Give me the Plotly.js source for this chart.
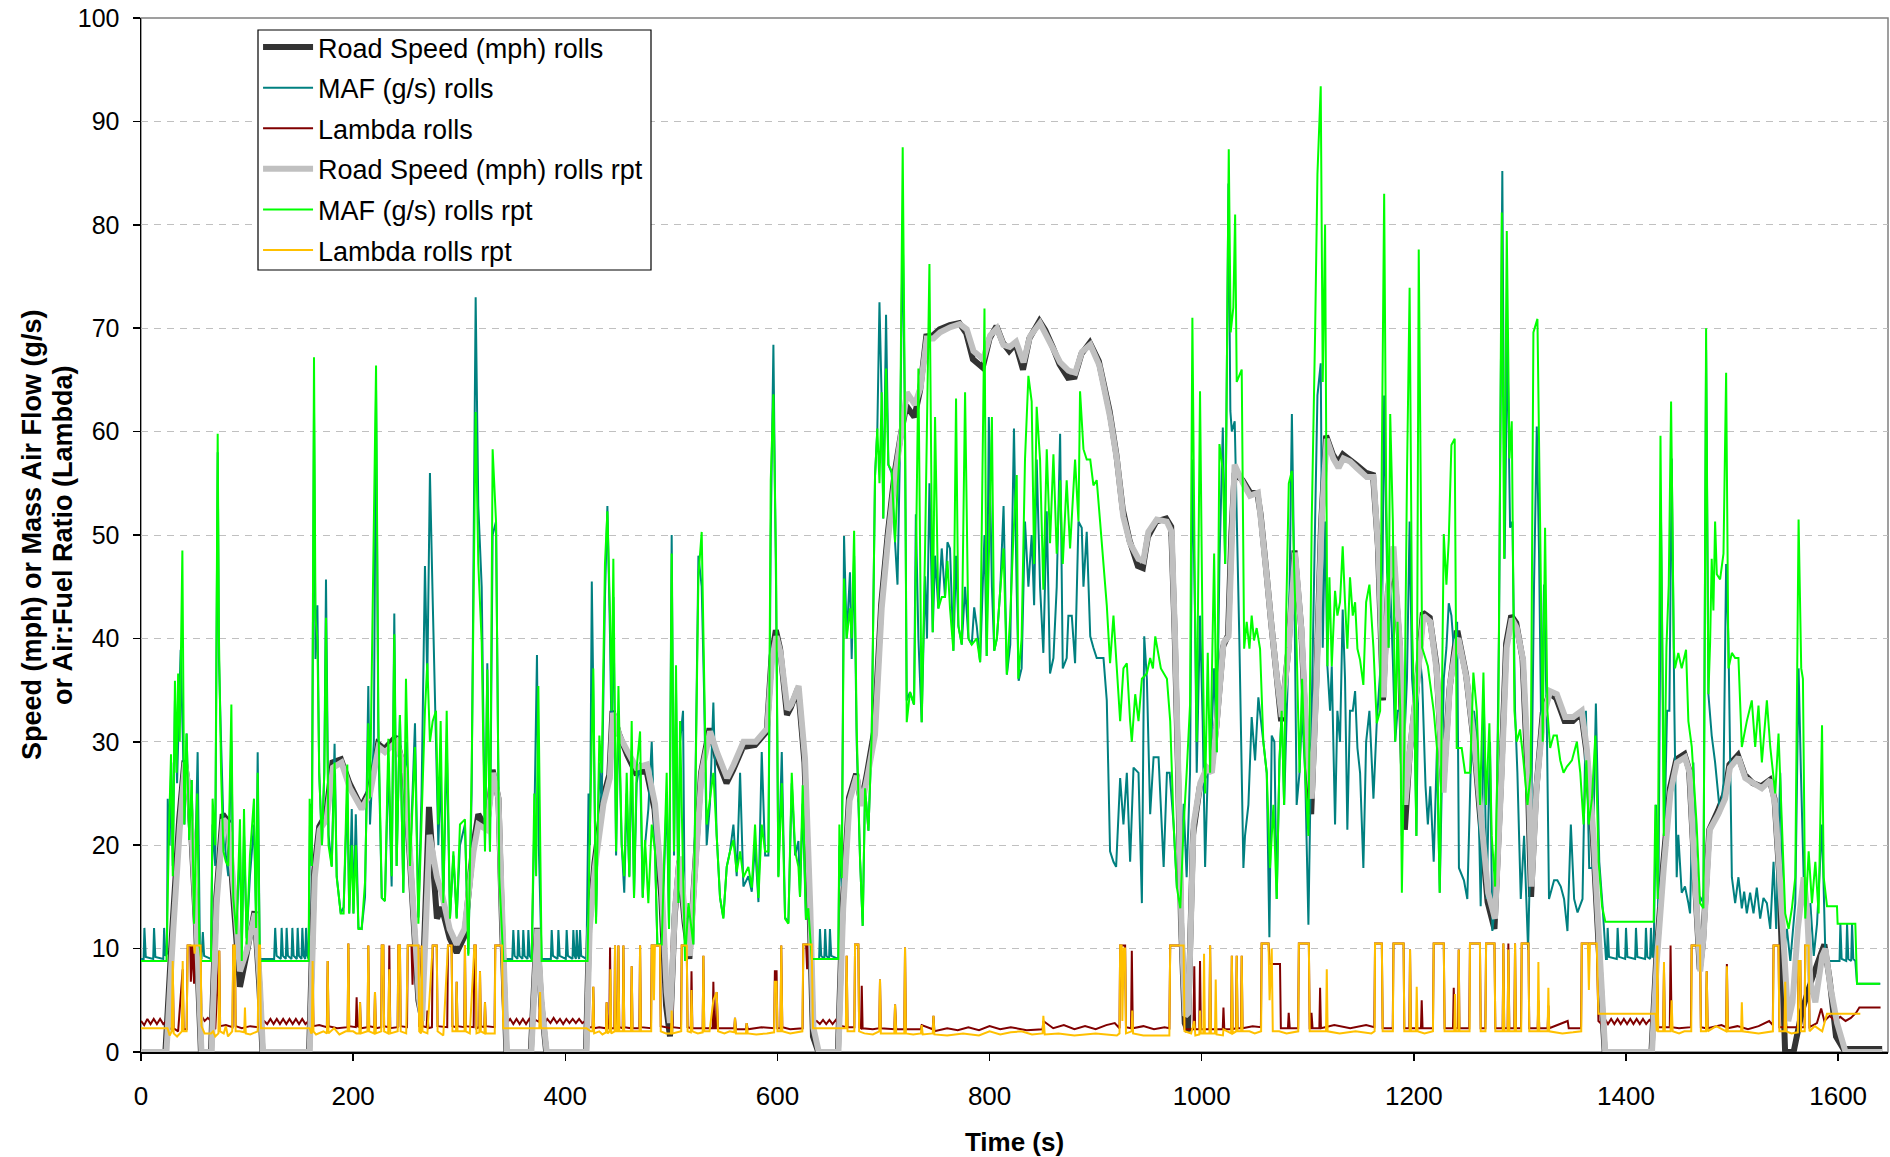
<!DOCTYPE html>
<html>
<head>
<meta charset="utf-8">
<script src="https://cdn.plot.ly/plotly-3.0.1.min.js"></script>
<style>
  html, body { margin: 0; padding: 0; background: #ffffff; }
  #chart { width: 1890px; height: 1157px; }
</style>
</head>
<body>
<div id="chart"></div>
<script>
// Drive cycle trace: each series is a list of [time (s), value] pairs.

const speedRolls = [
[0,0],[23,0],[29.5,11.9],[36,22.5],[41,28.2],[45.5,25],[52,11.9],[56.5,0],[66,0],[71,15],[77,23],[82,22.3],[88,13.5],[93.3,6.3],[99.6,9.5],[107,13.6],[111.5,6.5],[114.5,0],[158.5,0],
[163.3,17.5],[168,21.8],[174.5,23],[180.5,28],[188.5,28.3],[196.5,26],[207.5,23.7],[215.5,25.3],[223.5,29.8],[229.5,29.3],[240.5,30.5],[248.5,27],[254.5,17],[261.5,5],[264.5,3.5],[271.5,23.7],[279,12.9],[283.5,14],[291,11],[297.6,9.6],[305,11.2],[313,19.8],[318,23],[326,21.5],[331.5,27.3],[337,24.5],[340.5,11.9],[344.5,0],
[367.5,0],[373.2,12],[377.3,4.8],[382,0],[419.5,0],[422.5,12],[427.5,18.3],[435.5,24.5],[441.5,26.8],[444.5,33],[450.5,30.8],[458.5,28.7],[466.5,27],[476.5,27.2],[484.1,23.5],[490.5,15],[495,4.5],[498.7,1.5],[503,13],[507.5,18.5],[512.5,12.5],[517,9],[521.5,16.5],[528,27],[536,31.3],[542.5,28.5],[552,26],[558.3,27.3],[567.5,29.5],[579,29.7],[589.9,31],[594.5,38.3],[598.5,40.8],[602.5,39],[609,32.6],[612.5,33.3],[619.5,35.2],[625.5,28],[630.5,13],[633.5,1.5],[638.5,0],
[657,0],[661.5,14.2],[667.5,24.6],[674.2,26.9],[679,24],[684.5,27],[691.5,31.2],[697.8,43.3],[704.1,50.2],[710.5,56],[716.5,59.8],[721.5,62.5],[729.1,61.4],[734.5,64],[740.3,69.2],[746.5,69.3],[752.9,69.9],[762.5,70.3],[771.5,70.5],[778,69.5],[784.3,67],[793.5,66.2],[800,69],[806.5,70.2],[812.5,68.6],[818.5,67.8],[824.5,68.5],[831.5,66],[837.5,69],[847,70.7],[852.5,69.8],[859.5,68.2],[866,66.5],[873.9,65.2],[880.3,65.3],[886.5,67.5],[894.5,68.6],[903,66.8],[913.1,62],[919.5,57.8],[925.5,52.5],[931.9,49.5],[939.8,47],[944.5,46.8],[949.2,49.8],[957.1,51.3],[966.5,51.6],[971.2,50.8],[974.5,40.5],[977.5,28],[980.5,12.5],[984,2.8],[987,2],
[991.8,21],[998.1,25.6],[1004.4,27.3],[1009.1,27.3],[1013.8,31.5],[1020.1,39.2],[1024.8,40.3],[1028,50.2],[1031,56],[1038.5,55.3],[1045,54.2],[1052.5,54],[1055.5,52],[1060.9,46.5],[1065.5,41.5],[1070.5,36.5],[1074.9,32],[1081.5,38.7],[1087.5,48.5],[1093.8,41],[1098.5,30],[1103.2,23],[1107.9,35.5],[1112.5,51],[1117.3,59.6],[1123.5,57.8],[1128.5,57],[1133.1,57.8],[1139.4,57.3],[1145.5,56.8],[1155.1,56],[1161.5,55.8],[1166.1,49],[1170.9,34],[1175.5,44.5],[1180.3,48.5],[1186.5,39.5],[1191.5,21.5],[1196,28.8],[1202.5,35],[1208.5,42.5],[1215,42],[1221.2,37.5],[1227.5,25.5],[1233.5,35],[1240.2,40.5],[1241.5,40.5],[1249.2,36.5],[1257,29.5],[1263.5,21.5],[1269.5,14.5],[1276,11.9],[1282.3,26.5],[1287,39.5],[1291.8,42.2],[1296.5,41.5],[1302.5,38],[1307.5,26],[1310.5,15],[1315.3,25.2],[1321.5,32.8],[1328,34.7],[1334.3,34.2],[1342.1,32],[1349.9,32],[1357.8,32.8],[1362.5,29.2],[1368.9,20.5],[1375.2,8.3],[1379.9,0],
[1424,0],[1428.5,9],[1435.1,18.2],[1441.4,25.5],[1447.5,28.3],[1455.1,28.8],[1459.5,27.3],[1464.5,17.5],[1469.5,8],[1472.5,10.5],[1478.5,21.5],[1486.5,23.3],[1493,25],[1497.5,27.8],[1505.5,28.7],[1512,26.8],[1519.5,26],[1527.5,25.7],[1535.5,26.3],[1540,24.5],[1544.5,17],[1550,0],[1558,0],[1566,4],[1575,7],[1587,10.4],[1592,7],[1598,1.5],[1605,0.3],[1641.5,0.3]
];

const mafRolls = [
[0,9],[2.5,9],[3.2,12],[4.5,9.2],[11.5,9],[12.3,12],[13.5,9.2],[21,9],[21.8,12],[23,9.3],[24.5,9.5],
[25.2,24.5],[27,20],[28.5,28],[30,18],[32,34],[34,26],[37.4,38.9],[39.5,30],[41,22],[43,30.8],[45.5,20.5],[47.8,26.3],[50,13],[53.4,29],[55.5,10.4],[57,9],[58.3,11.6],[59.5,9.3],[66,9],
[67.5,22],[70,18],[72.3,58],[73.5,38],[75.5,30],[77.7,22],[80,19],[82.3,17],[85.2,30],[87,15],[90,12],[93.3,20],[95,10],[97.1,21],[99.6,11],[102.7,17],[106.5,22],[108.5,13],[110,29],[112,9],[125.5,9],
[126.5,12],[127.8,9.3],[131.8,9],[132.6,12],[133.8,9.3],[136.5,9],[137.3,12],[138.5,9.3],[141.9,9],[142.7,12],[143.9,9.3],[146.9,9],[147.7,12],[148.9,9.3],[151.3,9],[152.1,12],[153.3,9.3],[154.8,9],[155.6,12],[156.8,9.3],[158,9],
[159.5,24],[161,18],[163.1,62],[164.5,38],[166.3,43.2],[168,27],[170.6,20],[172.8,27],[174.4,45.7],[176.8,21],[179.8,18],[182.5,29.8],[184.5,17],[188.3,13.4],[191,14],[194.5,25],[196.3,13.4],[198.7,23.5],[200.3,13.4],[202.5,23],[205,12],
[208,11.9],[211.2,15],[214.3,35.4],[215.9,22],[219.5,30],[221.6,64],[223.8,30],[227,14.9],[230,14.6],[233.2,28],[236.3,16],[238.8,42.4],[241,18],[244.1,32.6],[247.3,15.4],[249.8,30],[253.6,18],[258.3,31.8],[261.5,13],[264.5,25],[267.7,47],[269.9,36],[272.4,56],[275,43.7],[278.1,30],[280.3,20],[282.5,27],[285,14.4],[288.2,30],[291.3,13],[294.5,19],[297.6,13],[300.7,20],[305.4,22],[308.6,9.5],[311.7,25],[315.5,73],[318,52.8],[321.2,45],[324.3,20],[326.5,37.6],[329,19.4],[331.5,50],[334.7,51.3],[337.8,17],[341.6,9],
[350,9],[351,11.8],[352.2,9.3],[354.9,9],[355.7,11.8],[356.9,9.3],[359.6,9],[360.4,11.8],[361.6,9.3],[364.4,9],[365.2,11.8],[366.4,9.3],[368.3,9],[370.8,22],[373.3,38.4],[375,20],[377.7,9],[386.4,9],[387.2,11.8],[388.4,9.3],[392.7,9],[393.5,11.8],[394.7,9.3],[400.5,9],[401.3,11.8],[402.5,9.3],[406.8,9],[407.6,11.8],[408.8,9.3],[410,9],[410.8,11.8],[412,9.3],[413.1,9],[413.9,11.8],[415,9.3],[420,9],
[421.9,25],[423.3,20],[425,45.5],[427,30],[429,13],[432.1,28],[434.3,24],[437.4,44],[439.7,52.8],[442.2,40],[443.7,30],[445.3,44],[447.9,19],[450.1,33],[453.2,20],[455.6,15.4],[457.9,25],[460.4,17],[462.6,29],[464.8,15],[467.3,26],[470.5,28],[473,15],[475.2,20],[478.3,23.5],[481.5,30],[484.6,19.4],[486.8,10.4],[490.9,10.4],[495.6,25],[497.8,12],[500.3,50],[502.5,19],[504.4,35],[506.6,14.4],[508.2,30],[511,33],[512.9,9.5],[516.1,14],[520.7,10.4],[525.5,48],[528.6,45],[530.8,35],[533.3,20],[536.4,24],[539.6,33.8],[542.7,21],[545.9,14.9],[549,13],[552.2,17.9],[555.3,19.4],[558.5,22],[561.6,17],[564.8,27],[567.9,16],[572.6,17],[575.8,15.5],[578.9,20],[582.1,14.5],[585.2,29],[588.4,19],[591.5,19],[593.7,50],[596.2,68.4],[598.7,45],[600.9,17],[604.1,29],[607.2,13],[610.3,12.5],[613.5,26],[616.7,19],[619.8,20.4],
[621.3,15],[623.8,24],[626.9,12.8],[629.1,13.9],[632.3,9],[639.3,9],[640.1,11.9],[641.3,9.3],[644.2,9],[645,11.9],[646.2,9.3],[648.7,9],[649.5,11.9],[650.7,9.3],[657.4,9],
[658.4,20],[660.6,16],[662.8,49.9],[665.3,40],[668.4,46.4],[670,38],[672.3,48],[674.7,30],[677.9,18.6],[680.4,12.2],[682.6,25.5],[685.8,21.4],[688.9,30.7],[692,55.7],[694.2,60.3],[696.2,72.5],[698.3,63],[699.8,51.6],[702.4,71.3],[704.6,56.8],[707.7,56],[710.9,49.3],[713.2,45.2],[715.6,58.6],[718.1,80],[720.3,60],[721.9,34],[725,34.8],[728.8,33.6],[730.5,52],[732.9,40],[736,31.9],[739.2,46],[741,40],[743.3,55],[746.4,40.6],[748.6,48],[751.7,42.9],[754.9,48.7],[758,44],[760.3,49.3],[762.7,48.7],[765.9,38.8],[768.4,48],[770.6,41.2],[773.8,39.4],[776.9,45],[780.1,40],[783.2,39.4],[785.5,43],[787.9,41.2],[791.1,37.7],[795.2,50],[797.3,38.3],[799.3,61.4],[802.2,45],[804.4,38.8],[806.9,40],[810,44.6],[813.2,52.8],[816.3,36.5],[819.5,39.4],[823,60.3],[825.5,45],[827.4,35.9],
[830.2,37.1],[833.4,51.3],[836.6,45],[839.7,50],[842,43.2],[844.4,57.3],[847.6,45],[850.7,38.6],[853.9,52.3],[857,36.6],[860.2,38.1],[863.3,45],[866.5,59.8],[869,37.1],[872.7,38.1],[874.3,42.2],[877.5,42.2],[880.6,37.6],[883.8,51.3],[886.9,50.7],[888.5,45],[891.6,50.3],[894.9,40.2],[897.9,39.1],[901,38.1],[904.2,38.1],[907.4,38.1],[910.5,34],[913.6,19.4],[916.8,18.4],[919.3,17.9],[923.1,26.5],[926.2,22],[929.4,27],[932.5,18.4],[935.7,27.5],[940.4,27],[943.6,14.4],[945.8,40.2],[948.3,36.1],[951.4,23],[954.6,28.5],[959.3,28.5],[964.1,17.9],[967.2,27],[969.8,27],[973.5,22],[976.6,15.9],[979.8,15.9],[983,24],[985.8,16.9],[989,27],[991.2,57.3],[993.7,42.2],[995.3,27],[998.4,42.2],[1000.9,32],[1003.2,17.9],[1005.7,27],[1007.9,27],[1011.7,37.1],[1014.2,29],[1016.7,47.2],[1019.9,60.4],[1022.1,47.2],[1025.2,84],[1027,62],[1028.4,60],[1031.1,61],
[1035.5,39.8],[1039.3,17.8],[1040.8,20.9],[1044,23.9],[1047.1,32.4],[1050.3,28.2],[1053.4,34.3],[1058.1,30],[1061.3,27],[1063.8,11.1],[1066,30.6],[1068.5,30],[1070.7,14.8],[1073.3,28.2],[1075.4,33],[1077.7,23.9],[1080.2,33],[1082.1,39.1],[1085,61.7],[1087.2,46.5],[1089.5,23.9],[1092.2,27],[1094.6,33],[1097.5,27],[1100.6,12.3],[1103.7,33],[1106.9,51.3],[1109.1,63.5],[1112.2,66.6],[1114.1,39.1],[1116.3,51.3],[1118.5,37.3],[1121,33],[1122.6,37.3],[1125.7,22],[1127.9,33],[1130.4,30],[1132.9,42.8],[1135.1,36.1],[1137.3,21.5],[1139.8,33],[1142.4,33],[1144.6,34.9],[1146.8,29.4],[1149.3,27],[1152.4,17.8],[1155,30],[1158.1,33],[1161.9,24.5],[1165,31.8],[1169.8,39.1],[1172,63.5],[1173.9,51.3],[1176.1,39.1],[1177.7,45.2],[1180.2,37.9],[1182.4,30],[1184.6,33],[1187.2,33],[1188.7,20.9],[1191,30],[1193.5,36.1],[1196,51.3],[1198.3,36.1],[1200.5,33],[1202.4,20.9],[1204.6,39.1],[1207.8,36.1],[1211,25.7],[1213.2,22],[1215.5,25.7],[1218.7,18.4],[1221.8,29.4],[1224.4,15.4],[1228.2,36.1],[1230.7,39.1],[1232.9,43.4],[1235.4,42.2],[1237.6,39.1],[1240.8,41.6],[1242.5,17.8],
[1247.2,16.6],[1250.4,14.8],[1253.5,27],[1256.7,33],[1259.8,30],[1263,14.1],[1266.1,33],[1268.6,14.8],[1271.8,30],[1274,11.7],[1277.1,14.8],[1280.3,41],[1283.4,85.2],[1285.6,47.7],[1288.1,69.6],[1290.7,50.7],[1292.9,51.3],[1295.4,33],[1297.6,27],[1300.8,14.8],[1303.9,20.9],[1307.7,9.9],[1310.8,23.9],[1313.3,45.2],[1315.9,60.5],[1318,48.3],[1320.2,30],[1322.7,45.2],[1325.2,33],[1327.4,14.8],[1330.6,16],[1332.2,16.6],[1335.3,16.6],[1338.5,16],[1341.6,14.8],[1344.8,11.7],[1348,22],[1351.1,14.8],[1354.3,13.5],[1359,14.8],[1362.2,33],[1365.3,17.8],[1368.5,17.8],[1371.6,33.7],[1374.8,18.4],[1377.9,14.1],[1381.1,9],
[1382,9],[1382.7,12],[1384,9.2],[1391.3,9],[1392.1,12],[1393.4,9.2],[1399.2,9],[1400,12],[1401.3,9.2],[1408.6,9],[1409.4,12],[1410.7,9.2],[1418,9],[1418.8,12],[1420.1,9.2],[1422.7,9],[1423.5,12],[1424.8,9.2],[1426,9.2],
[1428.3,23.9],[1430.5,14],[1433,51.3],[1436.2,20.9],[1438.7,33],[1440.9,33],[1443.1,57.4],[1445.6,33],[1447.8,16.9],[1449.3,21],[1452.5,15.4],[1455.6,16],[1458.8,14.4],[1460.4,13.4],[1463.5,28],[1466.6,13.9],[1470,15],[1473,14.4],[1475.5,67.9],[1477.7,34.6],[1480.8,30.6],[1484,28],[1488.7,23],[1491.9,26],[1494.4,47.2],[1496.6,39.6],[1499.8,16.9],[1502.9,14.4],[1506,16.9],[1509.2,13.9],[1511.4,15.5],[1513.9,13.4],[1517,15.4],[1520.2,13.4],[1523.3,15.9],[1526.5,12.9],[1529.6,14.9],[1532.8,14.4],[1536,11.9],[1539.1,18.4],[1541.6,11.9],[1545.4,27],[1548.6,9.3],[1551.7,11.9],[1554.9,8.8],[1559.6,14.4],[1562.7,37.1],[1564.9,27],[1567.5,16.9],[1570.6,11.9],[1573.8,14.4],[1577,9.3],[1580.1,12.4],[1584.8,22],[1588,9.3],[1591.1,8.8],[1601.3,8.8],[1602.1,12.4],[1603.3,9],[1607.6,8.8],[1608.4,12.4],[1609.6,9],[1612.3,8.8],[1613.1,12.4],[1614.3,9],[1616.2,8.8],[1617.8,6.6],[1639.8,6.6]
];

const lambdaRolls = [
[0,3],[3,2.6],[6,3.2],[9,2.7],[12,3.2],[15,2.7],[18,3.2],[21,2.7],[24,3],[26,2.2],[29,2.3],[29.9,8.5],[30.8,2.3],[35,2],[39.3,8],[40.2,2.2],[43,2.2],[44,10.3],[46.5,10.3],[47,6.8],[48.5,10.3],[50,6.6],[50.8,10.3],[56,10.3],[57,3.5],[60,3],[63,3.3],[66,3],[70,2.2],[73.8,9.8],[74.6,2.5],[80,2.6],[86.3,2.4],[87,10.3],[88.5,10.3],[89.2,2.5],[95,2.3],[103,2.5],[110.5,2.4],[111.2,10.3],[112.2,10.3],[113,3],
[116,3],[119,2.7],[122,3.2],[125,2.7],[128,3.2],[131,2.7],[134,3.2],[137,2.7],[140,3.2],[143,2.7],[146,3.2],[149,2.7],[152,3.2],[155,2.7],[158,3],[160.5,2.3],[161.8,8.8],[162.6,2.5],[168,2.6],[175.2,2.4],[176,8.8],[176.8,2.5],[185,2.3],[194.8,2.4],[195.5,10.5],[196.3,2.5],[202.5,2.4],[203.3,5.3],[204,2.5],
[205.8,2.4],[206.5,4.8],[207.3,2.3],[213.6,2.4],[214.3,10.3],[215.1,2.5],[219.9,2.4],[220.6,5.8],[221.4,2.3],[226.4,2.4],[227,10.3],[228.5,10.3],[229.2,2.5],[233.4,2.4],[234.1,10.3],[235,2.3],[241.9,2.4],[242.6,10.3],[244.1,10.3],[244.8,2.5],[250.8,2.4],[251.5,10.3],[255,10.3],[256,6.5],[257,10.3],[261.5,10.3],[262.3,2.5],[263.9,2.4],[264.6,10.3],[265.4,2.5],[269.3,2.4],[270,4],[271,2.3],[274.3,2.4],[275,10.3],[278.8,10.3],[279.6,2.5],[288.7,2.4],[289.4,10.3],[292.8,10.3],[293.6,2.5],[296.9,2.4],[297.6,6.8],[298.4,2.5],[304.7,2.4],[305.4,10.3],[306.2,2.5],[313.6,2.4],[314.3,10.3],[315.5,10.3],[316.3,2.3],[318.9,2.4],[319.6,7.8],[320.4,2.5],[323.6,2.4],[324.3,4.8],[325.1,2.5],[333.3,2.4],[334,10.3],[340.3,10.3],[341.5,3],
[345,2.8],[348,3.2],[351,2.7],[354,3.2],[357,2.7],[360,3.2],[363,2.7],[366,3.2],[369,2.7],[372,3.1],[375.5,2.9],[376.2,5.8],[377,3],[380,2.7],[383,3.2],[386,2.8],[389,3.3],[392,2.8],[395,3.2],[398,2.7],[401,3.2],[404,2.8],[407,3.2],[410,2.8],[413,3.2],[416,2.8],[419,3],
[422,2.4],[425.7,2.4],[426.4,6.3],[427.2,2.3],[432,2.4],[438.3,2.3],[439,4.8],[439.8,2.3],[441.5,2.3],[442.2,10.1],[443,2.3],[446.2,2.3],[446.9,10.3],[447.7,2.4],[449.4,2.3],[450.1,10.3],[450.9,2.4],[454.1,2.3],[454.8,10.3],[455.6,2.4],[461.9,2.3],[462.6,8.3],[463.4,2.3],[469.8,2.3],[470.5,10.3],[471.3,2.4],[480.8,2.3],[481.5,10.3],[489.3,10.3],[490,2.5],[499.6,2.3],[500.3,10.3],[501.2,2.4],[509.1,2.3],[509.8,10.3],[514.5,10.3],[515.3,2.4],[518.3,2.3],[519,7.8],[519.8,2.3],[529.5,2.3],[530.2,9.3],[531,2.3],[538.9,2.3],[539.6,6.8],[540.5,2.3],[542,2.3],[542.7,5.8],[544,2.3],[559.3,2.3],[560,3.3],[561,2.2],[570.3,2.2],[571,2.8],[572,2.2],[585,2.4],[596.9,2.3],[597.6,7.8],[599.2,7.8],[600,2.3],[602.9,2.3],[603.6,10.3],[604.6,2.4],[612,2.2],
[623.7,2.3],[624.4,10.4],[627,10.4],[628,8],[629,10.4],[632.3,10.4],[633.5,2.8],[637,3],[640,2.7],[643,3.1],[646,2.7],[649,3.1],[652,2.7],[655,3.1],[658,2.6],[664.6,2.4],[665.3,9.3],[666.1,2.4],[672.5,2.4],[673.2,10.4],[676.3,10.4],[677,2.4],[678.8,2.3],[679.5,6.4],[680.3,2.3],[690,2.2],[696,2.3],[696.7,7],[697.5,2.3],[710.2,2.2],[710.9,4.6],[712,2.2],[719.6,2.2],[720.3,10.1],[721.1,2.2],[735.3,2.2],[736,2.6],[746.4,2.2],[747.1,3.5],[748,2],[760,2.3],[770,2.1],[780,2.4],[790,2.1],[800,2.5],[810,2.2],[820,2.4],[835,2.1],[850,2.2],[850.7,3],[860,2.3],[870,2.6],[880,2.2],[890,2.5],[900,2.2],[910,2.6],[918,2.8],
[922.5,2.3],[923.1,10.3],[927.8,10.3],[928.6,2.4],[933.4,2.3],[934.1,9.8],[935,2.3],[945,2.5],[955,2.2],[965,2.4],[969.5,2.3],[970.3,10.3],[982.9,10.3],[983.8,2.2],[992.2,2.2],[993,8.3],[993.8,2.2],[997.7,2.2],[998.4,8.8],[999.2,2.2],[1007.2,2.2],[1007.9,10.3],[1008.7,2.2],[1019.8,2.2],[1020.5,4.3],[1021.3,2.2],[1027.7,2.2],[1028.4,9.3],[1029.2,2.2],
[1032.3,2.3],[1033,9.3],[1033.8,2.3],[1037,2.3],[1037.7,9.3],[1038.5,2.3],[1048,2.5],[1055.8,2.4],[1056.5,10.5],[1063,10.5],[1064,8.5],[1073.8,8.5],[1074.6,2.3],[1081.3,2.3],[1082,3.8],[1083,2.3],[1090.9,2.3],[1091.6,10.5],[1101,10.5],[1101.8,2.3],[1102.8,2.3],[1103.5,3.8],[1104.5,2.3],[1110.9,2.3],[1111.6,6.2],[1112.4,2.3],[1125,2.6],[1140,2.3],[1155,2.6],[1162.7,2.4],[1163.4,10.5],[1169.8,10.5],[1170.6,2.3],[1180.1,2.3],[1180.8,10.5],[1190.3,10.5],[1191,2.3],[1195.7,2.3],[1196.4,9.9],[1197.2,2.3],[1206.7,2.3],[1207.4,5],[1208.2,2.3],[1218,2.3],[1218.7,10.5],[1228.2,10.5],[1229,2.3],[1236.9,2.3],[1237.6,6.2],[1238.4,2.3],[1241.6,2.3],[1242.3,9.9],[1243,2.3],
[1252.2,2.3],[1252.9,10.5],[1262.3,10.5],[1263,2.3],[1267.4,2.3],[1268.1,10.5],[1276,10.5],[1276.8,2.3],[1283.7,2.3],[1284.4,10.5],[1285.2,2.3],[1288.4,2.3],[1289.1,10.5],[1290,2.3],[1294.7,2.3],[1295.4,10.5],[1296.2,2.3],[1301,2.3],[1301.7,10.5],[1308,10.5],[1308.8,2.3],[1316.7,2.3],[1317.4,5],[1318.2,2.3],[1326.1,2.3],[1326.8,4.5],[1327.6,2.3],[1345,3],[1346,2.3],[1357.6,2.3],[1358.3,10.5],[1372.4,10.5],[1374,3],
[1377,2.7],[1380,3.2],[1383,2.7],[1386,3.2],[1389,2.7],[1392,3.2],[1395,2.7],[1398,3.2],[1401,2.7],[1404,3.2],[1407,2.7],[1410,3.2],[1413,2.7],[1416,3.2],[1419,2.7],[1422,3.1],[1425,2.8],[1428.8,2.5],[1429.5,10.3],[1430.3,2.4],[1435.1,2.4],[1435.8,8],[1436.6,2.4],[1441.3,2.4],[1442,10.3],[1443,2.4],
[1450,2.3],[1461.2,2.4],[1461.9,10.3],[1469.8,10.3],[1470.6,2.4],[1475.4,2.3],[1476.1,7.8],[1477,2.3],[1490,2.6],[1494.4,2.4],[1495.1,8.5],[1496,2.3],[1505,2.5],[1515,2.2],[1525,2.5],[1535,3],[1538.4,2.6],[1539.1,10.3],[1543.8,10.3],[1544.6,2.4],[1549.4,2.4],[1550.1,6.8],[1551,2.4],[1562,2.4],[1562.7,8.8],[1564.3,8.8],[1565,2.4],[1568.3,2.4],[1569,10.3],[1572.2,10.3],[1573,2.4],[1580,2.8],[1584,4.2],[1587,3],[1592,3.5],[1597,3],[1602,3.4],[1607,3],[1612,3.3],[1617,3.8],[1620,4.3],[1640,4.3]
];

const speedRpt = [
[0,0],[24,0],[30.5,11.9],[36.8,22],[41.5,28],[46,24.5],[52.5,11.9],[57,0],[66.6,0],[71.3,14.4],[77.6,22.5],[82.3,22],[88.6,14.4],[93.3,7.8],[99.6,9.8],[107.5,13.4],[112,6.8],[115,0],[159,0],
[163.8,16.9],[168.5,21.5],[175,22.5],[181,27.5],[189,28],[197,25.5],[208,23.5],[216,25],[224,29.5],[230,29],[241,30],[249,27],[255,16.9],[262,5.3],[265,3],[272,21],[279,16.9],[283.5,15.4],[291,11.9],[297.6,10.4],[305,11.9],[313.5,19.4],[318,22],[326,21.5],[332,27],[337,24.5],[341,11.9],[345,0],
[368,0],[373.6,11.9],[377.7,4.8],[382.5,0],[420,0],[423,11.9],[428,17.9],[436,24],[442,26.5],[445,32.8],[451,30.6],[459,29],[467,27.5],[477,27.8],[484.6,24],[491,15.9],[495.6,5.8],[498.7,2.8],[503.4,13.9],[508,18.9],[513,12.9],[517.5,9.3],[522,16.9],[528.6,27],[536.5,31],[543,29],[552.6,26.5],[558.8,27.8],[568,30],[579.5,30],[590.4,31.3],[595,38],[599,40.2],[603,38.6],[609.5,33.1],[613,33.6],[620,35.4],[626,28.4],[631,13.9],[634,2.3],[639,0],
[657.5,0],[662,13.9],[668,24.3],[674.7,26.7],[679.5,23.8],[685,26.7],[692,30.7],[698.3,42.9],[704.6,49.9],[711,55.7],[717,60],[722,63.8],[729.6,62.6],[735,64.3],[740.8,69],[747,69],[753.4,69.6],[763,70.1],[772,70.4],[778.5,69.9],[784.8,67.8],[794,67],[800.5,69.3],[807,70],[813,68.4],[819,68.2],[825,68.7],[832,66.7],[838,69.2],[847.5,70.5],[853,69.4],[860,68],[866.5,66.7],[874.4,65.9],[880.8,65.7],[887,67.7],[895,68.4],[903.5,66.4],[913.6,61.4],[920,57.3],[926,51.8],[932.4,49.2],[940.3,47.7],[945,47.5],[949.7,50.3],[957.6,51.5],[967,51.3],[971.7,50.3],[975,39.6],[978,27],[981,11.9],[984.5,3.5],[987.5,3.8],
[992.3,22],[998.6,26],[1004.9,27.5],[1009.6,27],[1014.3,32],[1020.6,39.6],[1025.3,40.2],[1028.5,49.7],[1031,56.8],[1039,55],[1045.5,53.8],[1053,54.1],[1056,51.3],[1061.4,45.9],[1066,41],[1071,36.1],[1075.4,32.4],[1082,39.1],[1088,48.3],[1094.3,40.4],[1099,30],[1103.7,24.5],[1108.4,36.1],[1113,51.3],[1117.8,59.3],[1124,57.4],[1129,56.5],[1133.6,57.4],[1139.9,57.1],[1146,56.5],[1155.6,55.6],[1162,55.6],[1166.6,48.3],[1171.4,34.3],[1176,45.2],[1180.8,48.9],[1187,39.1],[1192,23.9],[1196.5,29.4],[1203,35.5],[1209,42.2],[1215.5,41.6],[1221.7,36.7],[1228,25.1],[1234,35.5],[1240.7,39.8],[1242,40],[1249.7,36.1],[1257.5,29.4],[1264,22],[1270,15.4],[1276.5,12.9],[1282.8,27],[1287.5,39.1],[1292.3,41.9],[1297,41],[1303,37.9],[1308,27],[1311,16],[1315.8,25.7],[1322,32.4],[1328.5,34.9],[1334.8,34.6],[1342.6,32.4],[1350.4,32.4],[1358.3,33],[1363,29.4],[1369.4,20.9],[1375.7,8.7],[1380.4,0],
[1424.5,0],[1429,8.7],[1435.6,17.8],[1441.9,25.1],[1448,28],[1455.6,28.5],[1460,27],[1465,16.9],[1470,7.8],[1473,11],[1479,21.5],[1487,23],[1493.5,24.5],[1498,27.5],[1506,28.5],[1512.4,26.5],[1520,26],[1528,25.5],[1536,26.3],[1540.5,24],[1545,16.9],[1553,3],[1557,4.8],[1562,11.9],[1567.5,16.9],[1570.6,13.9],[1573.8,6.8],[1578.5,4.8],[1585,9.3],[1588,10],[1592.7,6.3],[1599,2.8],[1607,0],[1641.5,0]
];

const mafRpt = [
[0,8.8],[24,8.8],[26.5,22],[28.3,28.8],[30,17],[32,35.9],[33.5,27],[35,36.6],[36.5,30],[39,48.5],[40.8,22],[43,30.8],[45.5,20.5],[47.8,26.3],[50,12.4],[53,25],[55,10.4],[57,8.8],[66,8.8],
[67.5,24.5],[70,20],[72.3,59.8],[73.5,40],[75.5,27],[77.7,19.4],[80,18.4],[82.3,18],[85.2,33.6],[87,14.9],[90,11.4],[93.3,22.5],[95,8.8],[97.1,23.5],[99.6,10.4],[102.7,19],[106.5,24.5],[108.5,12],[110,27],[112,8.8],[158,8.8],
[159,24.5],[161,18],[163.1,67.2],[164.5,42],[166.3,40],[168,27],[170.6,20],[172.8,27],[174.4,42],[176.8,20],[179.8,17.9],[182.5,28],[184.5,16.9],[188.3,13.4],[191,13.4],[194.5,27.8],[196.3,13.4],[198.7,20],[200.3,13.4],[202.5,20],[205,11.9],
[208,11.9],[211.2,16.4],[214.3,31.8],[215.9,24.5],[221.6,66.4],[223.8,32],[227,14.9],[230,14.6],[233.2,30.3],[236.3,17],[238.8,40.4],[241,18],[244.1,32.6],[247.3,15.4],[249.8,36.1],[253.6,18],[258.3,29.5],[261.5,12.4],[267.7,33],[269.9,37.6],[272.4,30],[275,32],[278.1,33],[280.3,22],[282.5,32],[285,14.4],[288.2,33],[291.3,12.9],[294.5,19.4],[297.6,12.9],[300.7,22],[305.4,22.5],[308.6,9.3],[311.7,27],[315.5,61.9],[318,47.2],[321.2,39.6],[324.3,19.4],[326.5,37],[329,19.4],[331.5,58.3],[334.7,51.3],[337.8,16.9],[341.6,8.8],[368.3,8.8],[370.8,25],[372.5,17],[374.6,35.4],[377.7,8.8],[421,8.8],
[423.3,22],[426.4,37.1],[429,12.4],[432.1,30.6],[434.3,27],[437.4,47.2],[439.7,52.3],[442.2,42.2],[443.7,33],[445.3,47.7],[447.9,19.4],[450.1,35.4],[453.2,20],[455.6,17],[457.9,27],[460.4,16.9],[462.6,32],[464.8,14.9],[467.3,27.5],[470.5,31],[473,14.9],[475.2,20.5],[478.3,14.4],[481.5,22],[484.6,19.4],[486.8,10.4],[490.9,10.4],[495.6,27],[497.8,11.9],[500.3,48.2],[502.5,19.4],[504.4,37.4],[506.6,14.4],[508.2,32],[510.5,20],[512.9,8.8],[516.1,14.4],[520.7,10.4],[525.5,46],[528.6,50.3],[530.8,37],[533.3,22],[536.4,24.5],[539.6,27],[542.7,21],[545.9,14.9],[549,12.9],[552.2,17.9],[555.3,19.4],[558.5,20.5],[561.6,17.4],[564.8,19.4],[567.9,16.9],[572.6,17.9],[575.8,15.9],[578.9,22],[582.1,14.9],[585.2,22],[588.4,19.4],[591.5,19.4],[593.7,55.3],[596.2,63.6],[598.7,47.2],[600.9,16.9],[604.1,26],[607.2,12.9],[610.3,12.4],[613.5,27],[616.7,19.4],[619.8,17.9],[621.3,15],[623.8,25.8],[626.9,12.8],[629.1,13.9],[632.3,9],[657.4,9],
[658.4,22],[660.6,16.8],[662.8,45.8],[665.3,40],[668.4,42.9],[670,40],[672.3,50.4],[674.7,31.3],[677.9,18.6],[680.4,12.2],[682.6,25.5],[685.8,21.4],[688.9,30.7],[692,55.7],[694.2,60.3],[696.2,55],[698.3,63.8],[699.8,51.6],[702.4,66.1],[704.6,56.8],[707.7,56.2],[710.9,49.3],[713.2,54.5],[715.6,58.6],[718.1,87.5],[720.3,60.3],[721.9,31.9],[725,34.8],[728.8,33.6],[732.9,66.1],[736,31.9],[739.2,48.7],[743.3,76.2],[746.4,40.6],[748.6,61.4],[751.7,42.9],[754.9,44],[758,44],[760.3,47.5],[762.7,42.9],[765.9,38.8],[768.4,63.2],[770.6,41.2],[773.8,39.4],[776.9,63.8],[780.1,40],[783.2,39.4],[787.9,40],[791.1,37.7],[795.2,71.9],[797.3,38.3],[802.2,61.4],[804.4,38.8],[806.9,40],[810,44.6],[813.2,48.7],[816.3,36.5],[819.5,42.2],[822.5,50],[825.6,55.8],[827.1,36.1],
[830.2,40],[833.4,57.3],[836.6,65.4],[839.7,62.9],[842,47.2],[844.4,62.4],[847.6,57.3],[850.7,44.7],[853.9,58.3],[857,49.2],[860.2,57.8],[863.3,48.2],[866.5,55.3],[869,47.2],[872.7,55.3],[875.9,48.7],[880.6,57.3],[883.8,51.3],[885.3,63.9],[888.5,58.3],[891.6,57.3],[894.9,57.3],[897.9,54.8],[901,55.3],[904.2,51.3],[910.5,43.2],[913.6,37.6],[916.8,42.2],[921.5,34.6],[923.1,32],[926.2,37.1],[929.4,37.6],[932.5,32],[934.1,30],[937.3,34.6],[940.4,32],[943.6,36.1],[948.3,36.6],[951.4,38.1],[954,37.1],[956.2,40.2],[961.5,37.1],[967.2,36.1],[970.3,32],[973.5,22],[976.6,15.9],[979.8,13.9],[983,22],[985.8,27],[989,33.6],[991.2,71],[993.7,42.7],[995.3,30],[998.4,63.9],[1000.9,39],[1003.2,25],[1005.7,38.6],[1007.9,27],[1011.7,48.2],[1014.2,29],[1016.7,58.8],[1019.9,56.3],[1022.1,47.2],[1025.5,87.3],[1027.3,69.6],[1029.8,72],[1031.5,81],[1033,64.8],[1037.7,66],
[1040,39],[1042.4,41.6],[1045,39],[1047.1,42.2],[1049.3,39.8],[1051.8,41],[1055,39],[1058.1,30],[1061.3,27],[1064.4,17.8],[1067.6,23.9],[1070.7,14.8],[1073.3,28.2],[1075.4,33],[1077.7,23.9],[1079.6,42.2],[1082.1,55],[1085,56.2],[1087.2,46.5],[1089.5,39],[1092.2,27],[1094.6,36.1],[1097.5,27],[1100.6,20.9],[1103.7,51.3],[1106.9,69.6],[1109.1,84.9],[1112.2,93.4],[1114.1,64.8],[1116.3,80],[1118.5,37.3],[1120.4,45.9],[1122.6,37.3],[1125.7,44.6],[1127.9,42.2],[1130.4,43.5],[1132.9,48.9],[1135.1,43.5],[1137.3,39],[1139.8,45.9],[1142.4,42.2],[1144.6,43.5],[1146.8,39],[1149.3,37.9],[1152.4,35.5],[1155,43.5],[1158.1,45.2],[1161.9,39.1],[1165,31.8],[1168.2,33],[1169.8,57.4],[1172,83],[1173.9,54.4],[1176.1,39.1],[1177.7,61.7],[1180.2,51.3],[1182.4,30],[1184.6,41.6],[1187.2,33],[1188.7,15.4],[1191,30],[1193.5,55.6],[1196,73.9],[1198.3,41],[1200.5,33],[1202.4,20.9],[1204.6,77.6],[1207.8,39.1],[1213.2,37.3],[1215.5,35.5],[1218.7,33],[1221.8,29.4],[1224.4,15.4],[1228.2,50.1],[1230.7,45.2],[1232.9,49.5],[1235.4,58.7],[1238.5,59.3],[1240.4,29.4],
[1245.1,29.4],[1248.3,27],[1253,27],[1256.1,36.7],[1259.3,33],[1262.4,23.9],[1265.6,36.7],[1268.1,23.9],[1271.2,31.8],[1273.4,20.9],[1276.6,16],[1279.7,33],[1282.9,81.2],[1285.1,47.7],[1287.6,79.4],[1290.1,57.4],[1292.3,61],[1294.8,33],[1297,30],[1300.1,31.2],[1303.3,28.2],[1307.1,23.9],[1310.2,27],[1312.7,69.6],[1316.5,70.9],[1319,51.3],[1321.5,30],[1323.7,50.7],[1325.9,33],[1328.5,29.4],[1331.7,30.6],[1334.8,30.6],[1338,28.2],[1341.1,27],[1344.3,27.6],[1349,28.2],[1353.7,30],[1356.9,27],[1360,22],[1362.6,28.2],[1364.8,22],[1367.9,24.5],[1371.1,30.6],[1374.2,18.4],[1377.4,14.1],[1380.5,12.6],[1426.1,12.6],
[1427.7,23.9],[1429.9,14.8],[1432.5,59.6],[1435.6,20.9],[1438.1,39.1],[1440.3,45.2],[1442.5,62.9],[1445.1,39.1],[1446.2,37.1],[1449.3,38.6],[1452.5,37.1],[1456.6,38.9],[1458.8,32],[1462,29.5],[1466.6,22],[1469.8,14.4],[1473,13.9],[1475.5,70],[1477.7,34.6],[1479.3,39.6],[1480.8,47.7],[1482.4,42.7],[1484,51.3],[1485.6,46.2],[1488.7,45.7],[1491.9,48.2],[1494.4,65.7],[1496.6,37.1],[1499.8,38.6],[1502.9,38.1],[1506,38.1],[1509.2,29.5],[1513.9,32],[1518.6,34],[1521.8,29.5],[1524.9,33.5],[1528.1,28],[1532.8,34],[1536,29.5],[1540.7,25],[1543.8,30.8],[1547,22],[1550.1,13.4],[1553.3,11.9],[1556.4,13.9],[1559.6,16.9],[1562.7,51.5],[1565.2,37.1],[1566.8,36.1],[1569,12.9],[1572.2,19.4],[1575.3,14.4],[1578.5,18.4],[1581.6,13.4],[1584.8,31.6],[1586.4,16.9],[1589.5,14.1],[1598.9,14.1],[1599.5,12.4],[1616.2,12.4],[1617.8,6.6],[1639.2,6.6]
];

const lambdaRpt = [
[0,2.3],[25,2.3],[27,1.6],[29,2],[29.9,8.8],[30.8,1.8],[34,1.5],[38.5,2],[39.3,8.8],[40.2,2],[43,2],[44,10.3],[50,10.3],[50.5,9.5],[51,10.3],[56.2,10.3],[57,2.5],[60,1.8],[66,1.8],[68,2],[70,1.5],[73,1.8],[73.8,9.8],[74.6,2],[78,1.8],[80,2.5],[82,1.5],[86,2],[87,10.3],[88.5,10.3],[89.2,2],[93,2],[97.3,1.9],[98,4.3],[98.8,1.8],[103,1.7],[110,2],[111.2,10.3],[112.2,10.3],[113,2.3],
[159,2.3],[160.5,1.8],[161.1,1.9],[161.8,8.8],[162.6,2],[165,1.7],[172,2],[175.3,1.8],[176,8.8],[176.8,1.8],[182,2.3],[187,1.7],[193,2],[194.8,2],[195.5,10.5],[196.3,2],[200,2],[203,1.8],
[205.8,1.8],[206.5,4.8],[207.3,1.8],[213.5,2],[214.3,10.3],[215.1,2],[219.8,1.8],[220.6,5.8],[221.4,1.8],[226.5,2],[227,10.3],[228.5,10.3],[229.2,2],[233,1.8],[234.1,8],[235,1.8],[242,2],[242.6,10.3],[244.1,10.3],[244.8,2],[250,1.8],[251.5,10.3],[261.5,10.3],[262.3,2],[264,1.8],[264.6,10.3],[265.4,2],[270,1.8],[275,10.3],[278.8,10.3],[279.6,2],[285,1.6],[289.4,10.3],[292.8,10.3],[293.6,2],[297,2],[297.6,6.8],[298.4,2],[305,2],[305.4,10.3],[306.2,2],[310,1.8],[314.3,10.3],[315.5,10.3],[316.3,1.8],[319,1.9],[319.6,7.8],[320.4,2],[323.8,1.8],[324.3,4.8],[325.1,1.8],[333.5,1.8],[334,10.3],[340.3,10.3],[341.5,2.3],[375.5,2.3],[376.2,5.8],[377,2.3],[420,2.3],
[424,2],[425.7,2],[426.4,6.3],[427.2,1.8],[432,2],[435,1.7],[438.3,1.9],[439,4.8],[439.8,1.8],[442,2],[442.5,8],[443.3,1.8],[446.5,2],[446.9,10.3],[447.7,2],[449.5,2],[450.1,10.3],[450.9,2],[454.3,2],[454.8,10.3],[455.6,2],[462,2],[462.6,8.3],[463.4,2],[470,2],[470.5,10.3],[471.3,2],[481,2],[481.5,10.3],[483,10.3],[483.6,5],[484.5,10.3],[489.3,10.3],[490,2],[495,1.8],[499.6,1.8],[500.3,4],[501,1.8],[509.3,2],[509.8,10.3],[514.5,10.3],[515.3,2],[518.3,1.9],[519,6],[519.8,2],[525,1.8],[529.5,1.9],[530.2,9.3],[531,2],[536,2],[539.6,5],[542.7,5.8],[544,2],[550,1.8],[555,2],[559.3,1.9],[560,3.3],[561,1.8],[570.3,1.8],[571,2.8],[572,1.8],[580,1.7],[590,1.8],[596.9,1.9],[597.6,6.8],[599.2,6.8],[600,2],[603,2],[603.6,10.3],[604.6,2],[612,1.8],
[623.5,2],[624.4,10.4],[632.3,10.4],[633.5,2.3],[664.5,2.3],[665.3,9.3],[666.1,2],[672.5,2],[673.2,10.4],[676.3,10.4],[677,2],[682,1.8],[690,1.7],[696,2],[696.7,7],[697.5,1.8],[704,1.8],[710.2,1.8],[710.9,4.6],[712,1.8],[719.6,1.8],[720.3,10.1],[721.1,1.8],[728,1.7],[735.3,1.8],[736,2.6],[737,1.7],[746.4,1.8],[747.1,3.5],[748,1.7],[760,1.6],[775,1.8],[790,1.6],[800,2],[810,1.7],[820,1.9],[830,2],[840,1.7],[850,1.8],[850.7,3.5],[852,1.7],[865,1.8],[880,1.6],[900,1.8],[920,1.6],
[922.5,1.8],[923.1,10.3],[924.5,10.3],[925.2,3],[926.5,10],[927.8,10],[928.6,1.8],[934,2],[934.5,4],[935.3,1.8],[945,1.6],[955,1.6],[969.5,1.6],[970.3,10.3],[982.9,10.3],[983.8,2],[990,1.8],[993,3],[994,1.6],[997.7,1.7],[998.4,4],[999.2,1.8],[1001.5,1.8],[1002.2,9.5],[1003,1.8],[1007.3,1.8],[1007.9,10.3],[1008.7,1.8],[1012.5,1.8],[1013.2,7],[1014,1.7],[1020,1.6],[1020.5,2.2],[1027.8,1.8],[1028.4,9.3],[1029.2,1.8],
[1032.5,2],[1033,9.3],[1033.8,2],[1037.2,2],[1037.7,9.3],[1038.5,2],[1045,2],[1050,1.8],[1056,2],[1056.5,10.5],[1063,10.5],[1064,5],[1066,10],[1067,2],[1073,2],[1080,1.8],[1091,2],[1091.6,10.5],[1101,10.5],[1101.8,2],[1110,2],[1117.2,2],[1117.9,8],[1118.7,2],[1130,1.8],[1145,2],[1160,1.8],[1163,2],[1163.4,10.5],[1169.8,10.5],[1170.6,2],[1180.2,2],[1180.8,10.5],[1190.3,10.5],[1191,2],[1196,2],[1196.4,9.9],[1197.2,2],[1202,2],[1202.7,6.3],[1203.5,2],[1210,1.8],[1218,2],[1218.7,10.5],[1228.2,10.5],[1229,2],[1236,2],[1238.1,2],[1238.8,5.6],[1239.6,2],[1242,2],[1242.3,9.9],[1243,2],
[1252.5,2],[1252.9,10.5],[1262.3,10.5],[1263,2],[1267.5,2],[1268.1,10.5],[1276,10.5],[1276.8,2],[1283.8,2],[1284.4,10.5],[1285.2,2],[1288.4,2],[1289.1,9.9],[1290,2],[1295,2],[1295.4,10.5],[1296.2,2],[1301.2,2],[1301.7,10.5],[1308,10.5],[1308.8,2],[1316.7,2],[1317.4,8.7],[1318.2,2],[1326.1,2],[1326.8,6.2],[1327.6,2],[1340,1.8],[1350,1.9],[1357.8,2],[1358.3,10.5],[1364,10.5],[1365,6],[1366,10.5],[1372.4,10.5],[1374,3.7],[1428,3.7],
[1429,2],[1429.5,10.3],[1430.3,2],[1435.1,2],[1435.8,8.7],[1436.6,2],[1442,2],[1443,5],[1444,2],[1450,1.8],[1455,2],[1461.5,2],[1461.9,10.3],[1469.8,10.3],[1470.6,2],[1475.4,2],[1476.1,7.8],[1477,2],[1485,2.5],[1494.5,2],[1495.1,8.3],[1496,2],[1508.5,2],[1509.2,4.8],[1510,2],[1525,1.8],[1538.5,2],[1539.1,10.3],[1543.8,10.3],[1544.6,2],[1549.4,2],[1550.1,6.8],[1551,2],[1556,1.8],[1562,1.9],[1562.7,8.8],[1564.3,8.8],[1565,2],[1568.5,2],[1569,10.3],[1572.2,10.3],[1573,2],[1578,2.5],[1585,2],[1589.5,3.7],[1620.9,3.7]
];

const xTicks = [0, 200, 400, 600, 800, 1000, 1200, 1400, 1600];
const yTicks = [0, 10, 20, 30, 40, 50, 60, 70, 80, 90, 100];
const yTitleLines = ['Speed (mph) or Mass Air Flow (g/s)', 'or Air:Fuel Ratio (Lambda)'];

const seriesNames = [
  'Road Speed (mph) rolls', 'MAF (g/s) rolls', 'Lambda rolls',
  'Road Speed (mph) rolls rpt', 'MAF (g/s) rolls rpt', 'Lambda rolls rpt'
];
const seriesData = [speedRolls, mafRolls, lambdaRolls, speedRpt, mafRpt, lambdaRpt];
const seriesColors = ['#333333', '#008080', '#800000', '#C0C0C0', '#00FF00', '#FFC000'];
const seriesWidths = [6, 2, 2, 6, 2, 2];

const FONT = 'Liberation Sans, Arial, Helvetica, sans-serif';

const traces = seriesData.map((pts, i) => ({
  type: 'scatter',
  mode: 'lines',
  name: seriesNames[i],
  legendgroup: 'g' + i,
  x: pts.map(p => p[0]),
  y: pts.map(p => p[1]),
  line: { color: seriesColors[i], width: seriesWidths[i], simplify: false },
  hoverinfo: 'skip'
}));

// Plot area spans pixels 141..1888 across and 18..1052 down.
const plotLeft = 141, plotWidth = 1747, plotTop = 18, plotHeight = 1034;
const px2x = px => (px - plotLeft) / plotWidth;
const px2y = py => 1 - (py - plotTop) / plotHeight;
const yTitleX = [32, 63].map(px2x);

const layout = {
  width: 1890,
  height: 1157,
  margin: { l: 141, r: 2, t: 18, b: 105 },
  paper_bgcolor: '#ffffff',
  plot_bgcolor: '#ffffff',
  font: { family: FONT, color: '#000000', size: 25 },
  showlegend: true,
  legend: {
    x: 0.067, y: px2y(23), xanchor: 'left', yanchor: 'top',
    bgcolor: 'rgba(0,0,0,0)', borderwidth: 0,
    font: { family: FONT, size: 27, color: '#000000' },
    tracegroupgap: 2.5,
    itemwidth: 50,
    traceorder: 'grouped'
  },
  xaxis: {
    range: [0, 1647],
    tickvals: xTicks,
    ticktext: xTicks.map(String),
    ticks: 'outside', ticklen: 7, tickwidth: 1.5, tickcolor: '#000000',
    showline: true, linecolor: '#000000', linewidth: 1.5,
    showgrid: false, zeroline: false,
    tickfont: { family: FONT, size: 26, color: '#000000' },
    ticklabelstandoff: 13,
    automargin: false,
    title: { text: 'Time (s)', font: { family: FONT, size: 26, color: '#000000', weight: 'bold' }, standoff: 24 }
  },
  yaxis: {
    range: [0, 100],
    tickvals: yTicks,
    ticktext: yTicks.map(String),
    ticks: 'outside', ticklen: 7, tickwidth: 1.5, tickcolor: '#000000',
    showline: true, linecolor: '#000000', linewidth: 1.5,
    showgrid: true, gridcolor: '#c0c0c0', gridwidth: 1, griddash: '7px,6px',
    zeroline: false,
    tickfont: { family: FONT, size: 25, color: '#000000' },
    ticklabelstandoff: 8,
    automargin: false
  },
  annotations: yTitleLines.map((line, i) => ({
    text: line,
    xref: 'paper', yref: 'paper',
    x: yTitleX[i], y: 0.5,
    xanchor: 'center', yanchor: 'middle',
    textangle: -90,
    showarrow: false,
    font: { family: FONT, size: 27, color: '#000000', weight: 'bold' }
  })),
  shapes: [
    {
      type: 'rect', xref: 'paper', yref: 'paper', x0: 0, x1: 1, y0: 0, y1: 1,
      line: { color: '#808080', width: 1.5 }, layer: 'below'
    },
    {
      // legend frame
      type: 'rect', xref: 'paper', yref: 'paper',
      x0: px2x(258), x1: px2x(651), y0: px2y(270), y1: px2y(30),
      fillcolor: '#ffffff', line: { color: '#000000', width: 1.2 }, layer: 'above'
    }
  ],
  hovermode: false
};

Plotly.newPlot('chart', traces, layout, { displayModeBar: false, staticPlot: true });
</script>
</body>
</html>
